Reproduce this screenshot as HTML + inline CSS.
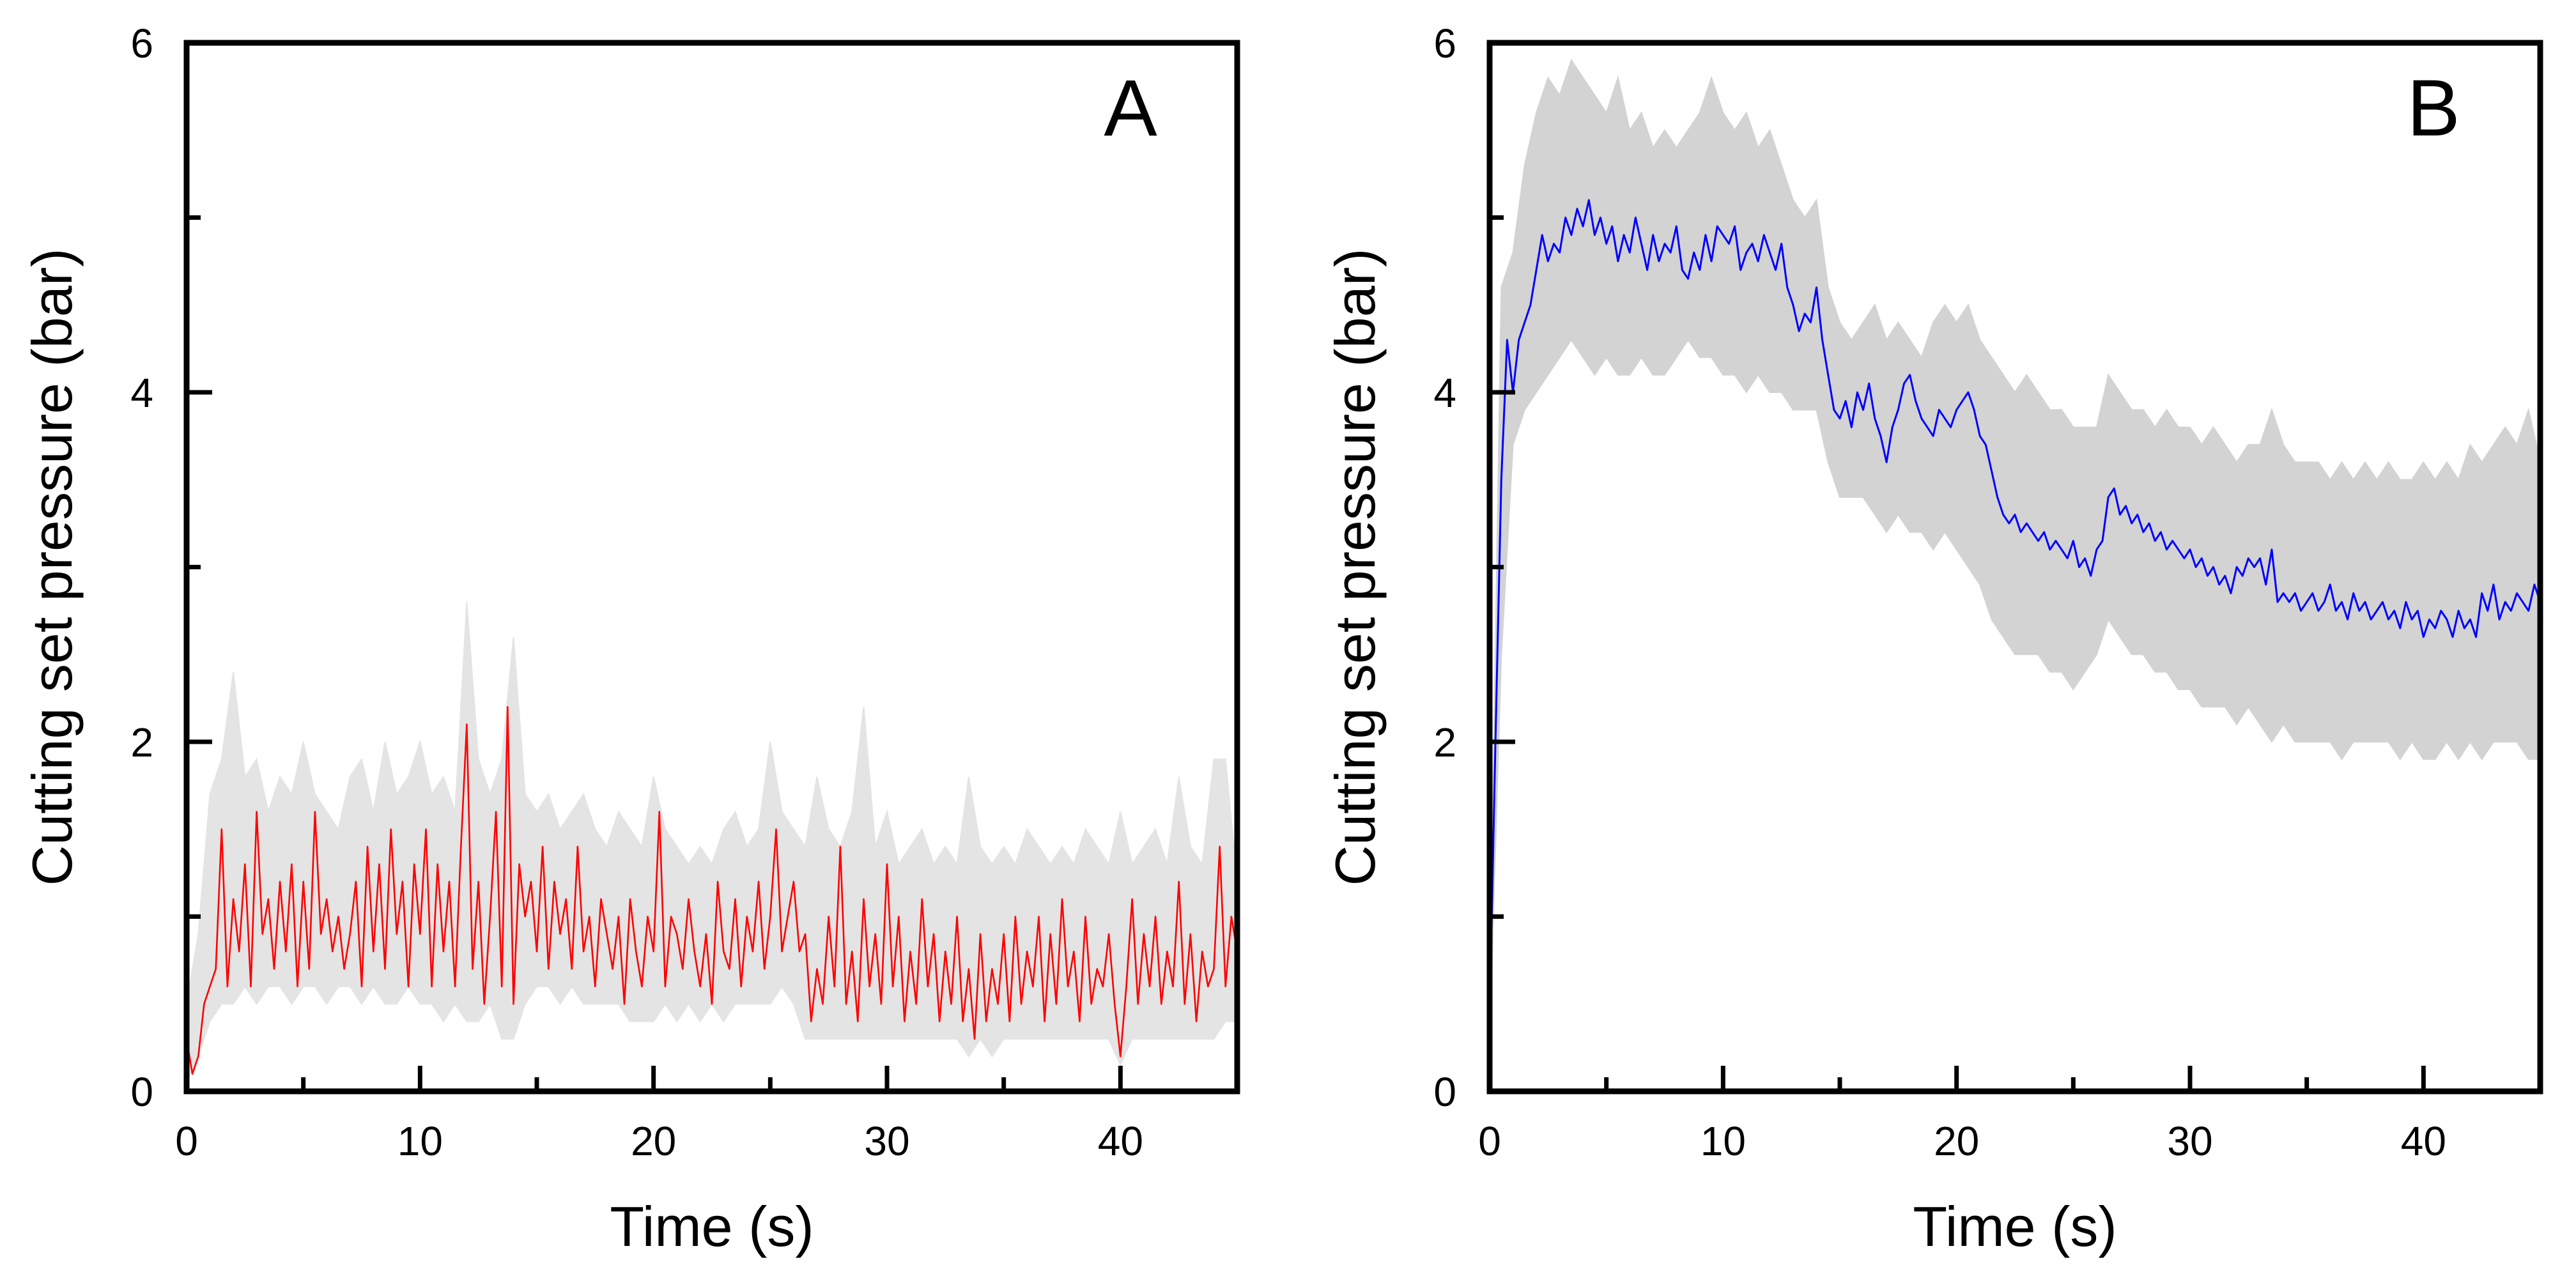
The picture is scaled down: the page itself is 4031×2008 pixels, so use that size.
<!DOCTYPE html>
<html><head><meta charset="utf-8"><style>
html,body{margin:0;padding:0;background:#fff;}
svg{display:block;font-family:"Liberation Sans",Arial,sans-serif;}
</style></head><body>
<svg id="fig" width="4031" height="2008" viewBox="0 0 4031 2008"></svg>
<script>
// ---- Panel A data (time step 0.25 s for line, 0.5 s for band) ----
const redA = [0.3,0.1,0.2,0.5,0.6,0.7,1.5,0.6,1.1,0.8,1.3,0.6,1.6,0.9,1.1,0.7,1.2,0.8,1.3,0.6,
1.2,0.7,1.6,0.9,1.1,0.8,1.0,0.7,0.9,1.2,0.6,1.4,0.8,1.3,0.7,1.5,0.9,1.2,0.6,1.3,
0.9,1.5,0.6,1.3,0.8,1.2,0.6,1.4,2.1,0.7,1.2,0.5,1.0,1.6,0.6,2.2,0.5,1.3,1.0,1.2,
0.8,1.4,0.7,1.2,0.9,1.1,0.7,1.4,0.8,1.0,0.6,1.1,0.9,0.7,1.0,0.5,1.1,0.8,0.6,1.0,
0.8,1.6,0.6,1.0,0.9,0.7,1.1,0.8,0.6,0.9,0.5,1.2,0.8,0.7,1.1,0.6,1.0,0.8,1.2,0.7,
1.0,1.5,0.8,1.0,1.2,0.8,0.9,0.4,0.7,0.5,1.0,0.6,1.4,0.5,0.8,0.4,1.1,0.6,0.9,0.5,
1.3,0.6,1.0,0.4,0.8,0.5,1.1,0.6,0.9,0.4,0.8,0.5,1.0,0.4,0.7,0.3,0.9,0.4,0.7,0.5,
0.9,0.4,1.0,0.5,0.8,0.6,1.0,0.4,0.9,0.5,1.1,0.6,0.8,0.4,1.0,0.5,0.7,0.6,0.9,0.5,
0.2,0.6,1.1,0.5,0.9,0.6,1.0,0.5,0.8,0.6,1.2,0.5,0.9,0.4,0.8,0.6,0.7,1.4,0.6,1.0,
0.8];
const upperA = [0.5,0.9,1.7,1.9,2.4,1.8,1.9,1.6,1.8,1.7,
2.0,1.7,1.6,1.5,1.8,1.9,1.6,2.0,1.7,1.8,
2.0,1.7,1.8,1.6,2.8,1.9,1.7,1.9,2.6,1.7,
1.6,1.7,1.5,1.6,1.7,1.5,1.4,1.6,1.5,1.4,
1.8,1.5,1.4,1.3,1.4,1.3,1.5,1.6,1.4,1.5,
2.0,1.6,1.5,1.4,1.8,1.5,1.4,1.6,2.2,1.4,
1.6,1.3,1.4,1.5,1.3,1.4,1.3,1.8,1.4,1.3,
1.4,1.3,1.5,1.4,1.3,1.4,1.3,1.5,1.4,1.3,
1.6,1.3,1.4,1.5,1.3,1.8,1.4,1.3,1.9,1.9,
1.2];
const lowerA = [0.05,0.2,0.4,0.5,0.5,0.6,0.5,0.6,0.6,0.5,
0.6,0.6,0.5,0.6,0.6,0.5,0.6,0.5,0.5,0.6,
0.5,0.5,0.4,0.5,0.4,0.4,0.5,0.3,0.3,0.5,
0.6,0.6,0.5,0.6,0.5,0.5,0.5,0.5,0.4,0.4,
0.4,0.5,0.4,0.5,0.4,0.5,0.4,0.5,0.5,0.5,
0.5,0.6,0.5,0.3,0.3,0.3,0.3,0.3,0.3,0.3,
0.3,0.3,0.3,0.3,0.3,0.3,0.3,0.2,0.3,0.2,
0.3,0.3,0.3,0.3,0.3,0.3,0.3,0.3,0.3,0.3,
0.15,0.3,0.3,0.3,0.3,0.3,0.3,0.3,0.3,0.4,
0.4];
// ---- Panel B data ----
const blueB = [0.4,2.0,3.5,4.3,4.0,4.3,4.4,4.5,4.7,4.9,4.75,4.85,4.8,5.0,4.9,5.05,4.95,5.1,4.9,5.0,
4.85,4.95,4.75,4.9,4.8,5.0,4.85,4.7,4.9,4.75,4.85,4.8,4.95,4.7,4.65,4.8,4.7,4.9,4.75,4.95,
4.9,4.85,4.95,4.7,4.8,4.85,4.75,4.9,4.8,4.7,4.85,4.6,4.5,4.35,4.45,4.4,4.6,4.3,4.1,3.9,
3.85,3.95,3.8,4.0,3.9,4.05,3.85,3.75,3.6,3.8,3.9,4.05,4.1,3.95,3.85,3.8,3.75,3.9,3.85,3.8,
3.9,3.95,4.0,3.9,3.75,3.7,3.55,3.4,3.3,3.25,3.3,3.2,3.25,3.2,3.15,3.2,3.1,3.15,3.1,3.05,
3.15,3.0,3.05,2.95,3.1,3.15,3.4,3.45,3.3,3.35,3.25,3.3,3.2,3.25,3.15,3.2,3.1,3.15,3.1,3.05,
3.1,3.0,3.05,2.95,3.0,2.9,2.95,2.85,3.0,2.95,3.05,3.0,3.05,2.9,3.1,2.8,2.85,2.8,2.85,2.75,
2.8,2.85,2.75,2.8,2.9,2.75,2.8,2.7,2.85,2.75,2.8,2.7,2.75,2.8,2.7,2.75,2.65,2.8,2.7,2.75,
2.6,2.7,2.65,2.75,2.7,2.6,2.75,2.65,2.7,2.6,2.85,2.75,2.9,2.7,2.8,2.75,2.85,2.8,2.75,2.9,
2.8];
const upperB = [0.5,4.6,4.8,5.3,5.6,5.8,5.7,5.9,5.8,5.7,
5.6,5.8,5.5,5.6,5.4,5.5,5.4,5.5,5.6,5.8,
5.6,5.5,5.6,5.4,5.5,5.3,5.1,5.0,5.1,4.6,
4.4,4.3,4.4,4.5,4.3,4.4,4.3,4.2,4.4,4.5,
4.4,4.5,4.3,4.2,4.1,4.0,4.1,4.0,3.9,3.9,
3.8,3.8,3.8,4.1,4.0,3.9,3.9,3.8,3.9,3.8,
3.8,3.7,3.8,3.7,3.6,3.7,3.7,3.9,3.7,3.6,
3.6,3.6,3.5,3.6,3.5,3.6,3.5,3.6,3.5,3.5,
3.6,3.5,3.6,3.5,3.7,3.6,3.7,3.8,3.7,3.9,
3.6];
const lowerB = [0.3,2.5,3.7,3.9,4.0,4.1,4.2,4.3,4.2,4.1,
4.2,4.1,4.1,4.2,4.1,4.1,4.2,4.3,4.2,4.2,
4.1,4.1,4.0,4.1,4.0,4.0,3.9,3.9,3.9,3.6,
3.4,3.4,3.4,3.3,3.2,3.3,3.2,3.2,3.1,3.2,
3.1,3.0,2.9,2.7,2.6,2.5,2.5,2.5,2.4,2.4,
2.3,2.4,2.5,2.7,2.6,2.5,2.5,2.4,2.4,2.3,
2.3,2.2,2.2,2.2,2.1,2.2,2.1,2.0,2.1,2.0,
2.0,2.0,2.0,1.9,2.0,2.0,2.0,2.0,1.9,2.0,
1.9,1.9,2.0,1.9,2.0,1.9,2.0,2.0,2.0,1.9,
1.9];
const xTickLabels = ["0","10","20","30","40"];
const yTickLabels = ["0","2","4","6"];

const NS = "http://www.w3.org/2000/svg";
const svg = document.getElementById("fig");
function mk(tag, attrs, parent){
  const e = document.createElementNS(NS, tag);
  for (const k in attrs) e.setAttribute(k, attrs[k]);
  (parent||svg).appendChild(e);
  return e;
}
function panel(id, x0, x1, y0, y1, lineData, lineStep, up, lo, bandStep, bandColor, lineColor, lineW, letter, letterX){
  const g = mk("g", {});
  
  
  const sx = t => x0 + (x1 - x0) * t / 45;
  const sy = v => y1 - (y1 - y0) * v / 6;
  const cp = mk("clipPath", {id: "clip" + id}, g);
  mk("rect", {x: x0, y: y0, width: x1 - x0, height: y1 - y0}, cp);
  let pts = [];
  for (let i = 0; i < up.length; i++) pts.push(sx(i * bandStep).toFixed(1) + "," + sy(up[i]).toFixed(1));
  for (let i = lo.length - 1; i >= 0; i--) pts.push(sx(i * bandStep).toFixed(1) + "," + sy(lo[i]).toFixed(1));
  const band = mk("polygon", {points: pts.join(" "), fill: bandColor, stroke: bandColor, "stroke-width": 2, "clip-path": "url(#clip" + id + ")"}, g);
  
  
  let lp = [];
  for (let i = 0; i < lineData.length; i++) lp.push(sx(i * lineStep).toFixed(1) + "," + sy(lineData[i]).toFixed(1));
  const line = mk("polyline", {points: lp.join(" "), fill: "none", stroke: lineColor, "stroke-width": lineW, "stroke-linejoin": "round", "clip-path": "url(#clip" + id + ")"}, g);
  
  
  const fr = mk("rect", {x: x0, y: y0, width: x1 - x0, height: y1 - y0, fill: "none", stroke: "#000", "stroke-width": 9}, g);
  
  
  for (let t = 0; t <= 45; t += 5) {
    if (t === 0 || t === 45) continue;
    const len = (t % 10 === 0) ? 40 : 22;
    mk("line", {x1: sx(t), x2: sx(t), y1: y1, y2: y1 - len, stroke: "#000", "stroke-width": 7}, g);
  }
  xTickLabels.forEach((lab, i) => {
    const tx = mk("text", {x: sx(i * 10), y: 1808, "font-size": 64, "text-anchor": "middle", fill: "#000"}, g);
    tx.textContent = lab;
    
    
  });
  for (let v = 1; v < 6; v++) {
    const len = (v % 2 === 0) ? 40 : 22;
    mk("line", {x1: x0, x2: x0 + len, y1: sy(v), y2: sy(v), stroke: "#000", "stroke-width": 7}, g);
  }
  yTickLabels.forEach((lab, i) => {
    const ty = mk("text", {x: x0 - 52, y: sy(i * 2) + 23, "font-size": 64, "text-anchor": "end", fill: "#000"}, g);
    ty.textContent = lab;
    
    
  });
  const xt = mk("text", {x: (x0 + x1) / 2, y: 1950, "font-size": 88, "text-anchor": "middle", fill: "#000"}, g);
  xt.textContent = "Time (s)";
  
  
  const ytx = x0 - 180, yty = (y0 + y1) / 2;
  const yt = mk("text", {x: ytx, y: yty, "font-size": 88, "text-anchor": "middle", fill: "#000", transform: "rotate(-90 " + ytx + " " + yty + ")"}, g);
  yt.textContent = "Cutting set pressure (bar)";
  
  
  const lt = mk("text", {x: letterX, y: 212, "font-size": 125, "text-anchor": "middle", fill: "#000"}, g);
  lt.textContent = letter;
  
  
}
panel("a", 292, 1936, 67, 1708, redA, 0.25, upperA, lowerA, 0.5, "#e4e4e4", "#ff0000", 2.6, "A", 1769);
panel("b", 2331, 3975, 67, 1708, blueB, 0.25, upperB, lowerB, 0.5, "#d3d3d3", "#0000ff", 3, "B", 3808);
</script>
</body></html>
